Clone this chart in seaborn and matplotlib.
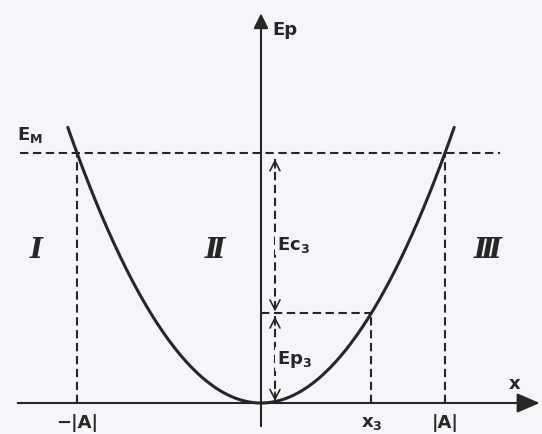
import numpy as np
import pandas as pd
import matplotlib
matplotlib.use("Agg")
import matplotlib.pyplot as plt
from matplotlib.patches import FancyArrowPatch
import seaborn as sns

# Harmonic oscillator: potential energy Ep = 1/2 k x^2, amplitude |A|, total energy E_M
amplitude = 1.0
energy_max = 1.0
x3 = 0.6
curve_x = list(np.linspace(-1.05, 1.05, 211))
region_labels = ["Ⅰ", "Ⅱ", "Ⅲ"]
tick_labels = ["−|A|", "x$_3$", "|A|"]

ep3 = energy_max * (x3 / amplitude) ** 2
curve = pd.DataFrame({"x": curve_x})
curve["Ep"] = energy_max * (curve["x"] / amplitude) ** 2

sns.set_theme(style="white")
plt.rcParams["font.family"] = ["DejaVu Sans"]

BG = "#f5f6fa"
INK = "#262626"

fig = plt.figure(figsize=(5.42, 4.35), dpi=100, facecolor=BG)
ax = fig.add_axes([0, 0, 1, 1], facecolor=BG)
ax.set_xlim(-261 / 184, 281 / 184)
ax.set_ylim(-31 / 250, 404 / 250)
ax.axis("off")

# axes with arrow heads
ax.add_patch(FancyArrowPatch((-1.337, 0), (1.53, 0),
                             arrowstyle="-|>,head_length=0.7,head_width=0.3",
                             mutation_scale=20, color=INK, lw=1.5))
ax.add_patch(FancyArrowPatch((0, -0.104), (0, 1.57),
                             arrowstyle="-|>,head_length=0.45,head_width=0.22",
                             mutation_scale=20, color=INK, lw=1.5))

dash = dict(color=INK, lw=1.5, dashes=(4, 2.2))

# total energy level
ax.plot([-1.31, 1.30], [energy_max, energy_max], **dash)
# turning points
for xa in (-amplitude, amplitude):
    ax.plot([xa, xa], [0, energy_max], **dash)
# position x3 and its potential energy
ax.plot([x3, x3], [0, ep3], **dash)
ax.plot([0, x3], [ep3, ep3], **dash)

# potential energy parabola
sns.lineplot(data=curve, x="x", y="Ep", ax=ax, color=INK, lw=2.2, sort=False,
             estimator=None)

# Ec3 / Ep3 double arrows
xa3 = 0.076
ax.plot([xa3, xa3], [0.975, ep3 + 0.01], **dash)
ax.plot([xa3, xa3], [ep3 - 0.01, 0.01], **dash)

def head(tip, direction):
    ax.annotate("", xy=(xa3, tip), xytext=(xa3, tip - direction * 0.035),
                arrowprops=dict(arrowstyle="->,head_length=0.35,head_width=0.18",
                                color=INK, lw=1.2, mutation_scale=20,
                                shrinkA=0, shrinkB=0))

head(0.975, +1)
head(ep3 + 0.006, -1)
head(ep3 - 0.014, +1)
head(0.008, -1)

lab = dict(color=INK, fontsize=13, fontweight="bold")
mask = dict(facecolor=BG, edgecolor="none", pad=1)

ax.text(0.06, 1.496, "Ep", ha="left", va="center", **lab)
ax.text(-1.325, 1.076, r"$\mathbf{E_M}$", ha="left", va="center", **lab)
ax.text(0.085, 0.636, r"$\mathbf{Ec_3}$", ha="left", va="center", bbox=mask, **lab)
ax.text(0.085, 0.176, r"$\mathbf{Ep_3}$", ha="left", va="center", bbox=mask, **lab)
ax.text(1.38, 0.08, "x", ha="center", va="center", **lab)

tick_text = ["−|A|", r"$\mathbf{x_3}$", "|A|"]
for xp, t in zip((-amplitude, x3, amplitude), tick_text):
    ax.text(xp, -0.078, t, ha="center", va="center", **lab)

for xp, t in zip((-1.223, -0.25, 1.234), region_labels):
    ax.text(xp, 0.616, t, ha="center", va="center", color=INK, fontsize=20,
            family="DejaVu Serif", style="italic", fontweight="bold")

fig.savefig("out.png", dpi=100, facecolor=BG)
